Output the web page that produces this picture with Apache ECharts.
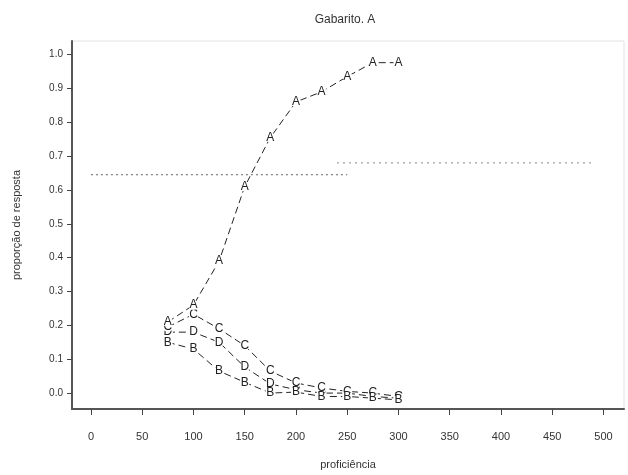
<!DOCTYPE html>
<html>
<head>
<meta charset="utf-8">
<script src="https://cdn.jsdelivr.net/npm/echarts@6/dist/echarts.min.js"></script>
<style>html,body{margin:0;padding:0;background:#fff}#c{width:628px;height:475px}</style>
</head>
<body>
<div id="c"></div>
<script>
const titleText = "Gabarito. A";
const xName = "proficiência";
const yName = "proporção de resposta";
const proficiencia = [75, 100, 125, 150, 175, 200, 225, 250, 275, 300];
const serieA = [0.21, 0.26, 0.39, 0.61, 0.755, 0.86, 0.89, 0.935, 0.976, 0.976];
const serieB = [0.15, 0.13, 0.065, 0.032, 0.0, 0.003, -0.01, -0.01, -0.015, -0.02];
const serieC = [0.195, 0.233, 0.19, 0.14, 0.065, 0.03, 0.015, 0.005, 0.0, -0.01];
const serieD = [0.18, 0.18, 0.15, 0.077, 0.027, 0.01, 0.0, 0.0, -0.01, -0.015];
const refLine1X = [0, 250];
const refLine1Y = [0.645, 0.645];
const refLine2X = [240, 490];
const refLine2Y = [0.68, 0.68];
const xTicks = [0, 50, 100, 150, 200, 250, 300, 350, 400, 450, 500];
const yTicks = [0, 0.1, 0.2, 0.3, 0.4, 0.5, 0.6, 0.7, 0.8, 0.9, 1.0];

const font = "Liberation Sans";
const ink = "#222";

function pairs(xs, ys) { return xs.map((x, i) => [x, ys[i]]); }

function letterSeries(name, ys, z) {
  return {
    type: 'line', name: name, z: z,
    data: pairs(proficiencia, ys),
    symbol: 'circle', symbolSize: 10,
    itemStyle: { color: '#fff', borderWidth: 0 },
    lineStyle: { color: ink, width: 1, type: [7, 4] },
    label: { show: true, position: 'inside', formatter: name, color: ink, fontFamily: font, fontSize: 12 },
    emphasis: { disabled: true },
    animation: false
  };
}

const chart = echarts.init(document.getElementById('c'));
chart.setOption({
  animation: false,
  title: {
    text: titleText, left: 340, top: 9, textAlign: 'center',
    textStyle: { fontFamily: font, fontSize: 12, fontWeight: 'normal', color: '#333' }
  },
  grid: { left: 72, right: 4, top: 41, bottom: 66, show: true, borderColor: '#e2e2e2', borderWidth: 1 },
  xAxis: {
    type: 'value', min: -18.5, max: 520,
    name: xName, nameLocation: 'middle', nameGap: 50,
    nameTextStyle: { fontFamily: font, fontSize: 11, color: '#333' },
    axisLine: { show: true, onZero: false, lineStyle: { color: '#555', width: 2 } },
    axisTick: { show: true, length: 6, customValues: xTicks, lineStyle: { color: '#444' } },
    axisLabel: { customValues: xTicks, margin: 22, fontFamily: font, fontSize: 11, color: '#333' },
    splitLine: { show: false }
  },
  yAxis: {
    type: 'value', min: -0.047, max: 1.04,
    name: yName, nameLocation: 'middle', nameGap: 50, nameRotate: 90,
    nameTextStyle: { fontFamily: font, fontSize: 11, color: '#333' },
    axisLine: { show: true, onZero: false, lineStyle: { color: '#555', width: 2 } },
    axisTick: { show: true, length: 5, customValues: yTicks, lineStyle: { color: '#444' } },
    axisLabel: { customValues: yTicks, margin: 9, fontFamily: font, fontSize: 10, color: '#333',
      formatter: v => v.toFixed(1) },
    splitLine: { show: false }
  },
  series: [
    { type: 'line', data: pairs(refLine1X, refLine1Y), symbol: 'none', z: 1,
      lineStyle: { color: '#666', width: 1, type: [2, 3] }, animation: false },
    { type: 'line', data: pairs(refLine2X, refLine2Y), symbol: 'none', z: 1,
      lineStyle: { color: '#888', width: 1, type: [2, 4] }, animation: false },
    letterSeries('D', serieD, 3),
    letterSeries('C', serieC, 4),
    letterSeries('B', serieB, 5),
    letterSeries('A', serieA, 6)
  ]
});
</script>
</body>
</html>
